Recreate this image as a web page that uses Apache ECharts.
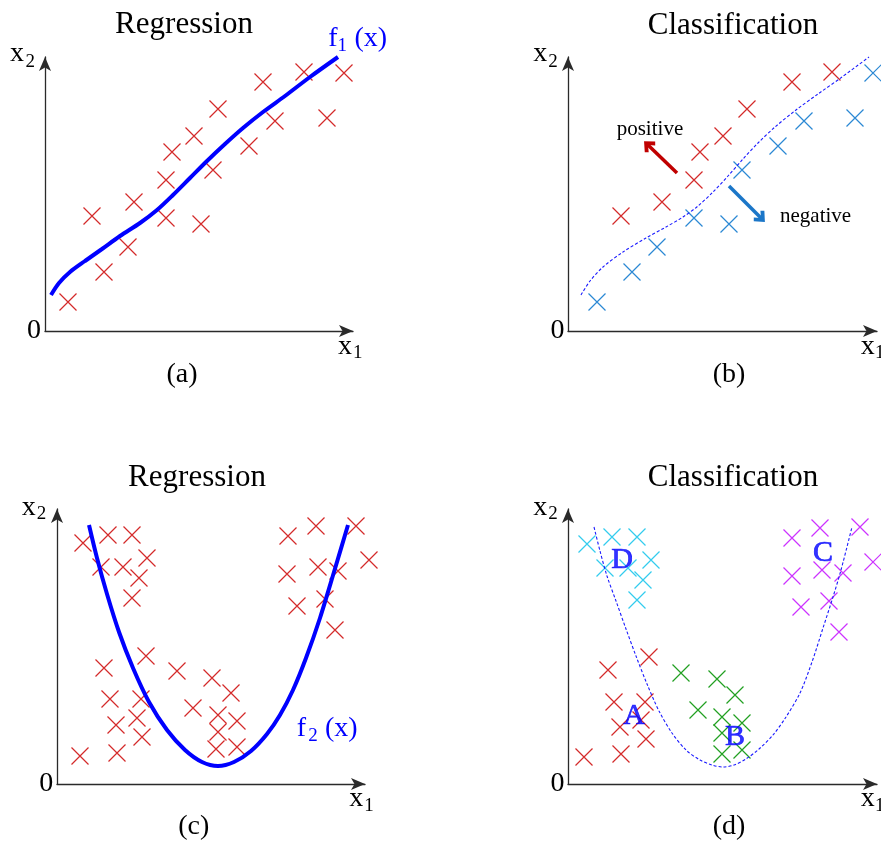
<!DOCTYPE html>
<html>
<head>
<meta charset="utf-8">
<script src="https://cdn.jsdelivr.net/npm/echarts@6/dist/echarts.min.js"></script>
<style>html,body{margin:0;padding:0;background:#fff}#c{width:881px;height:841px}</style>
</head>
<body>
<div id="c"></div>
<script>
// ---- Panel (a): Regression, linear-ish ----
const aPoints = [[23,29],[47,115],[59,59],[89,129],[83,84],[121,151],[127,179],[121,113],[149,195],[156,107],[173,222],[168,161],[204,185],[218,249],[230,210],[259,259],[282,213],[299,258]];
const aCurve = [[6,36],[14,48],[25,59],[40,70],[57,82],[75,95],[95,108],[112,121],[128,136],[145,153],[162,170],[180,187],[198,203],[218,219],[240,235],[265,254],[293,274]];
// ---- Panel (b): Classification, two classes ----
const bPositive = [[53,115],[94,129],[126,151],[132,179],[155,195],[179,222],[224,249],[264,259]];
const bNegative = [[29,29],[64,59],[89,84],[126,113],[161,107],[174,161],[210,185],[236,210],[287,213],[305,258]];
const bBoundary = [[13,36],[22,50],[35,64],[55,79],[78,93],[98,104],[115,114],[130,125],[145,139],[160,155],[175,172],[190,188],[207,204],[228,221],[250,237],[274,254],[301,274]];
const bArrowPos = [[109,158],[80,186]];
const bArrowNeg = [[161,145],[193,113]];
// ---- Panel (c): Regression, U-shape ----
const cPoints = [[26,241],[51,249],[75,249],[44,217],[66,217],[90,226],[82,206],[75,186],[47,116],[89,128],[53,85],[84,85],[59,59],[80,66],[85,47],[23,28],[60,31],[120,113],[155,106],[174,91],[136,76],[161,69],[180,63],[161,52],[159,35],[180,37],[231,248],[259,258],[299,258],[230,210],[261,217],[281,213],[312,224],[240,178],[268,185],[278,154]];
const cCurve = [[32,259],[40,226],[50,190],[62,152],[76,116],[92,82],[110,54],[128,34],[145,22],[161,18],[177,22],[194,33],[210,50],[223,69],[236,94],[249,126],[263,166],[277,212],[291,259]];
// ---- Panel (d): Classification, four classes ----
const dClassA = [[40,114],[81,127],[46,82],[77,82],[52,57],[73,64],[78,45],[16,27],[53,30]];
const dClassB = [[113,111],[149,105],[167,89],[130,74],[154,67],[174,61],[154,51],[154,30],[174,34]];
const dClassC = [[224,246],[252,256],[292,257],[224,208],[254,214],[275,211],[305,222],[233,177],[261,183],[271,152]];
const dClassD = [[19,240],[44,247],[69,247],[37,216],[60,216],[83,224],[75,204],[69,184]];
const dBoundary = [[26,257],[32,233],[39,208],[48,183],[58,155],[68,128],[79,100],[91,73],[104,51],[118,34],[132,24],[144,19],[155,17],[166,19],[178,25],[191,35],[205,49],[218,67],[232,91],[244,122],[255,156],[265,187],[273,214],[284,257]];
const dLabels = [['D',54,224],['A',66,68],['B',167,47],['C',255,231]];

const FONT = '"Liberation Serif", "Times New Roman", serif';
const cross = 'path://M0,0L10,10M0,10L10,0';
const grids = [
  {left:45, top:57, width:308, height:274},
  {left:568, top:57, width:309, height:274},
  {left:57, top:509, width:308, height:275},
  {left:568, top:509, width:309, height:275}
];
function axis(i, max){
  return {type:'value', gridIndex:i, min:0, max:max,
    axisLine:{show:true, onZero:false, symbol:['none','arrow'], symbolSize:[9,14], lineStyle:{color:'#2a2a2a', width:1.3}},
    axisTick:{show:false}, axisLabel:{show:false}, splitLine:{show:false}};
}
const xAxes = grids.map((g,i)=>axis(i,g.width));
const yAxes = grids.map((g,i)=>axis(i,g.height));

function scatter(i, data, color){
  return {type:'scatter', xAxisIndex:i, yAxisIndex:i, data:data, symbol:cross, symbolSize:17, clip:false, silent:true,
    itemStyle:{color:'rgba(0,0,0,0)', borderColor:color, borderWidth:1.2, opacity:1}};
}
function curve(i, data, dashed){
  return {type:'line', xAxisIndex:i, yAxisIndex:i, data:data, smooth:0.3, showSymbol:false, clip:false, silent:true,
    lineStyle: dashed ? {color:'#1a1aff', width:1.1, type:[3,2]} : {color:'#0000ff', width:4}};
}
const chevron = 'path://M0,9L8,0L16,9L13,12L8,6L3,12Z';
function arrow(i, pts, color){
  return {type:'line', xAxisIndex:i, yAxisIndex:i, data:[], silent:true,
    markLine:{silent:true, symbol:['none', chevron], symbolSize:[15,11], label:{show:false},
      lineStyle:{color:color, width:3.5, type:'solid'},
      data:[[{coord:pts[0]},{coord:pts[1]}]]}};
}
const series = [
  curve(0, aCurve, false), scatter(0, aPoints, '#d42a2a'),
  curve(1, bBoundary, true), scatter(1, bPositive, '#d42a2a'), scatter(1, bNegative, '#2b88d4'),
  arrow(1, bArrowPos, '#c00000'), arrow(1, bArrowNeg, '#1b76c8'),
  curve(2, cCurve, false), scatter(2, cPoints, '#d42a2a'),
  curve(3, dBoundary, true), scatter(3, dClassA, '#d42a2a'), scatter(3, dClassB, '#22a022'),
  scatter(3, dClassC, '#cc33ff'), scatter(3, dClassD, '#33ccee'),
  {type:'scatter', xAxisIndex:3, yAxisIndex:3, symbolSize:0, silent:true, clip:false,
    data: dLabels.map(l=>({name:l[0], value:[l[1], l[2]]})),
    label:{show:true, position:'inside', formatter:'{b}', color:'#0000ff', fontSize:30, fontFamily:FONT,
      textBorderColor:'#0000ff', textBorderWidth:0.7}}
];

function t(x, y, text, size, color, align){
  return {type:'text', x:x, y:y, silent:true, z:100,
    style:{text:text, fontSize:size, fontFamily:FONT, fill:color||'#000',
      align:align||'left', textAlign:align||'left', verticalAlign:'middle', textVerticalAlign:'middle'}};
}
const graphics = [
  t(184,25,'Regression',31,'#000','center'),
  t(733,26,'Classification',31,'#000','center'),
  t(197,478,'Regression',31,'#000','center'),
  t(733,478,'Classification',31,'#000','center'),
  // (a)
  t(10,54,'x',28), t(25.5,62,'2',19), t(34,331,'0',28,'#000','center'),
  t(338,347,'x',28), t(353,353.5,'1',19), t(182,375,'(a)',28,'#000','center'),
  t(328.3,38.5,'f',28,'#0000ff'), t(337.5,46.5,'1',19,'#0000ff'), t(354.5,38.5,'(x)',28,'#0000ff'),
  // (b)
  t(533.3,54,'x',28), t(548.3,62,'2',19), t(557.5,331,'0',28,'#000','center'),
  t(860.7,347,'x',28), t(875,353.5,'1',19), t(729,375,'(b)',28,'#000','center'),
  t(616.7,129,'positive',21), t(780,216,'negative',21),
  // (c)
  t(21.7,507.7,'x',28), t(36.7,514.4,'2',19), t(46.3,784,'0',28,'#000','center'),
  t(349.3,799,'x',28), t(364.3,806.4,'1',19), t(193.7,827,'(c)',28,'#000','center'),
  t(296.7,728.8,'f',28,'#0000ff'), t(308.3,736.5,'2',19,'#0000ff'), t(325,728.8,'(x)',28,'#0000ff'),
  // (d)
  t(533.3,508,'x',28), t(548.3,514.4,'2',19), t(557.5,784,'0',28,'#000','center'),
  t(860.7,799,'x',28), t(875,806.4,'1',19), t(729,827,'(d)',28,'#000','center')
];

const chart = echarts.init(document.getElementById('c'), null, {renderer:'canvas'});
chart.setOption({
  backgroundColor:'#fff', animation:false,
  grid:grids, xAxis:xAxes, yAxis:yAxes, series:series, graphic:graphics
});
</script>
</body>
</html>
